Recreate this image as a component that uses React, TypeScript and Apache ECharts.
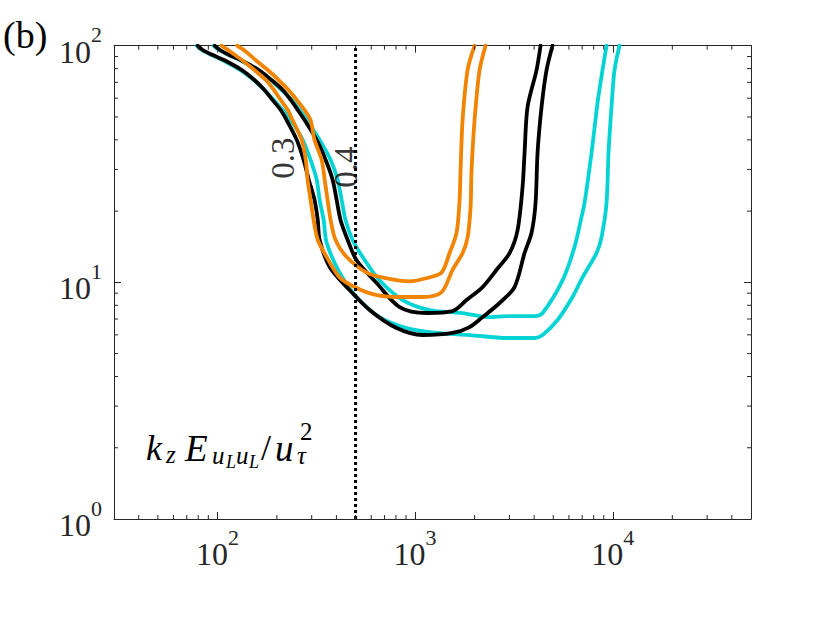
import React, { useEffect, useRef } from 'react';
import * as echarts from 'echarts';

// ---- data (x = wavelength, y = height) ----
const cyan03: [number, number][] = [[78.6,100],[83.3,95.9],[93.6,91.3],[106,87.0],[131,78.9],[153,71.6],[173,65.0],[193,59.0],[214,53.5],[235,48.5],[270,40.0],[296,32.9],[318,27.1],[329,22.3],[345,18.3],[357,14.7],[415,11.0],[506,8.67],[661,7.13],[906,6.41],[1284,6.11],[1886,5.99],[2901,5.82],[3496,5.82],[4019,5.82],[4412,5.99],[5253,6.93],[6254,8.67],[7028,10.5],[8274,13.3],[8767,15.5],[9295,21.6],[9512,35.2],[9849,55.1],[10200,78.9],[10810,100]];
const cyan04: [number, number][] = [[95.8,100],[102,95.9],[114,91.3],[130,87.0],[160,78.9],[186,71.6],[211,65.0],[238,59.0],[261,53.5],[283,48.5],[329,40.0],[374,32.9],[406,27.1],[425,22.3],[445,18.3],[483,15.1],[543,12.8],[661,10.2],[865,8.42],[1184,7.64],[1739,7.42],[2380,7.13],[2901,7.20],[3496,7.20],[4019,7.20],[4412,7.42],[5568,10.2],[6402,14.1],[6946,18.9],[7193,21.6],[7805,35.2],[8369,57.3],[8871,78.9],[9295,100]];
const black03: [number, number][] = [[79.5,100],[84.3,95.9],[94.7,91.3],[108,87.0],[133,78.9],[154,71.6],[173,65.0],[190,59.0],[209,53.5],[224,48.5],[252,40.0],[273,32.9],[290,27.1],[310,22.3],[322,18.3],[329,15.1],[370,11.6],[451,9.55],[589,7.64],[806,6.41],[1091,5.99],[1547,6.11],[1886,6.47],[2195,7.13],[2675,8.18],[3184,9.55],[3578,13.3],[3882,16.2],[4067,21.6],[4162,35.2],[4361,55.1],[4622,78.9],[4956,100]];
const black04: [number, number][] = [[96.9,100],[103,95.9],[115,91.3],[131,87.0],[162,78.9],[188,71.6],[214,65.0],[235,59.0],[255,53.5],[276,48.5],[318,40.0],[353,32.9],[383,27.1],[401,22.3],[420,18.3],[456,15.1],[506,12.4],[639,9.93],[835,7.86],[1143,7.42],[1547,7.56],[1821,8.42],[2195,9.55],[2583,11.3],[3005,13.3],[3297,16.6],[3496,25.3],[3578,35.2],[3705,55.1],[4114,78.9],[4310,100]];
const orange03: [number, number][] = [[105,100],[115,95.0],[133,87.0],[154,78.9],[176,71.6],[193,65.0],[209,59.0],[227,53.5],[240,48.5],[267,40.0],[280,32.9],[286,27.1],[296,22.3],[307,18.3],[322,15.1],[357,12.8],[415,10.5],[506,9.46],[639,8.84],[865,8.67],[1091,8.67],[1362,9.10],[1547,11.3],[1739,13.3],[1843,15.5],[1908,20.8],[1930,29.8],[1999,48.5],[2119,78.9],[2272,100]];
const orange04: [number, number][] = [[126,100],[138,95.0],[156,87.0],[180,78.9],[204,71.6],[229,65.0],[252,59.0],[276,53.5],[296,48.5],[310,40.0],[337,32.9],[349,27.1],[361,22.3],[374,18.3],[396,15.1],[451,12.8],[569,11.0],[718,10.4],[938,10.1],[1184,10.5],[1362,11.0],[1494,13.3],[1621,16.2],[1679,22.3],[1698,29.8],[1739,48.5],[1843,78.9],[1999,100]];

const refLineX = 500;
const xRange = [30, 50000];
const yRange = [1, 100];
const xMinorTicks = [40, 50, 60, 70, 80, 90, 200, 300, 400, 500, 600, 700, 800, 900, 2000, 3000, 4000, 5000, 6000, 7000, 8000, 9000, 20000, 30000, 40000];
const yMinorTicks = [2, 3, 4, 5, 6, 7, 8, 9, 20, 30, 40, 50, 60, 70, 80, 90];
const contourLabels: { text: string; x: number; y: number }[] = [
  { text: '0.3', x: 214, y: 33.5 },
  { text: '0.4', x: 445, y: 30.7 },
];

const COL_CYAN = '#06D4D4';
const COL_BLACK = '#000000';
const COL_ORANGE = '#F18400';
const AX = '#262626';
const SERIF = 'Liberation Serif';

const fmt = (v: number) => {
  const e = Math.round(Math.log10(v));
  if (Math.abs(v - Math.pow(10, e)) > 1e-6 * v) return '';
  return `{b|10}{s|${e}}`;
};
const richLabel = {
  b: { fontSize: 32, fontFamily: SERIF, color: AX, lineHeight: 44, verticalAlign: 'bottom' },
  s: { fontSize: 22, fontFamily: SERIF, color: AX, lineHeight: 22, verticalAlign: 'top' },
};

const lineSeries = (data: [number, number][], color: string) => ({
  type: 'line',
  data,
  symbol: 'none',
  smooth: 0.3,
  lineStyle: { color, width: 3.8, cap: 'round', join: 'round' },
  silent: true,
  z: 3,
});

function mathText(x: number, yc: number, text: string, size: number, italic = true) {
  return {
    type: 'text',
    x,
    y: yc,
    silent: true,
    style: {
      text,
      fontFamily: SERIF,
      fontSize: size,
      fontStyle: italic ? 'italic' : 'normal',
      fill: '#000',
      align: 'left',
      verticalAlign: 'middle',
    },
  };
}

export default function App() {
  const ref = useRef<HTMLDivElement>(null);
  useEffect(() => {
    if (!ref.current) return;
    const chart = echarts.init(ref.current, undefined, { renderer: 'svg' });
    const axisBase = {
      type: 'log',
      logBase: 10,
      axisLine: { show: true, lineStyle: { color: AX, width: 1 } },
      splitLine: { show: false },
      minorTick: { show: false },
    };
    const option: any = {
      animation: false,
      backgroundColor: '#ffffff',
      grid: { left: 114, top: 45.7, right: 79, bottom: 104, containLabel: false, outerBoundsMode: 'none' },
      xAxis: [
        {
          ...axisBase,
          min: xRange[0],
          max: xRange[1],
          position: 'bottom',
          axisTick: { show: true, inside: true, length: 7, lineStyle: { color: AX } },
          axisLabel: { formatter: fmt, rich: richLabel, margin: 7, showMinLabel: false, showMaxLabel: false },
        },
        {
          ...axisBase,
          min: xRange[0],
          max: xRange[1],
          position: 'top',
          axisTick: { show: true, inside: true, length: 7, lineStyle: { color: AX } },
          axisLabel: { show: false },
        },
      ],
      yAxis: [
        {
          ...axisBase,
          min: yRange[0],
          max: yRange[1],
          position: 'left',
          axisTick: { show: true, inside: true, length: 7, lineStyle: { color: AX } },
          axisLabel: { formatter: fmt, rich: richLabel, margin: 12 },
        },
        {
          ...axisBase,
          min: yRange[0],
          max: yRange[1],
          position: 'right',
          axisTick: { show: true, inside: true, length: 7, lineStyle: { color: AX } },
          axisLabel: { show: false },
        },
      ],
      series: [
        lineSeries(cyan03, COL_CYAN),
        lineSeries(cyan04, COL_CYAN),
        lineSeries(black03, COL_BLACK),
        lineSeries(black04, COL_BLACK),
        lineSeries(orange03, COL_ORANGE),
        lineSeries(orange04, COL_ORANGE),
        {
          type: 'line',
          data: [[refLineX, yRange[0]], [refLineX, yRange[1]]],
          symbol: 'none',
          lineStyle: { color: '#000', width: 3, type: [3, 3], cap: 'butt' },
          silent: true,
          z: 4,
        },
        {
          type: 'scatter',
          data: contourLabels.map((l) => [l.x, l.y, l.text]),
          symbolSize: 0,
          silent: true,
          z: 6,
          label: {
            show: true,
            position: 'inside',
            rotate: 90,
            formatter: (p: any) => p.data[2],
            fontFamily: SERIF,
            fontSize: 33,
            color: '#000',
          },
        },
        {
          type: 'custom',
          data: xMinorTicks.map((v) => [v, 10]),
          silent: true,
          z: 5,
          clip: false,
          renderItem: (params: any, api: any) => {
            const cs = params.coordSys;
            const px = api.coord([api.value(0), 10])[0];
            const bottom = cs.y + cs.height;
            const top = cs.y;
            return {
              type: 'group',
              children: [
                { type: 'line', shape: { x1: px, y1: bottom, x2: px, y2: bottom - 4 }, style: { stroke: AX, lineWidth: 1 } },
                { type: 'line', shape: { x1: px, y1: top, x2: px, y2: top + 4 }, style: { stroke: AX, lineWidth: 1 } },
              ],
            };
          },
        },
        {
          type: 'custom',
          data: yMinorTicks.map((v) => [100, v]),
          silent: true,
          z: 5,
          clip: false,
          renderItem: (params: any, api: any) => {
            const cs = params.coordSys;
            const py = api.coord([100, api.value(1)])[1];
            const left = cs.x;
            const right = cs.x + cs.width;
            return {
              type: 'group',
              children: [
                { type: 'line', shape: { x1: left, y1: py, x2: left + 4, y2: py }, style: { stroke: AX, lineWidth: 1 } },
                { type: 'line', shape: { x1: right, y1: py, x2: right - 4, y2: py }, style: { stroke: AX, lineWidth: 1 } },
              ],
            };
          },
        },
      ],
      graphic: [
        mathText(3, 35, '(b)', 38, false),
        {
          type: 'group',
          silent: true,
          children: [
            mathText(146, 448, 'k', 36),
            mathText(166, 454, 'z', 25),
            mathText(185, 448, 'E', 37),
            mathText(212, 455, 'u', 25),
            mathText(226, 462, 'L', 18),
            mathText(236, 455, 'u', 25),
            mathText(249, 462, 'L', 18),
            mathText(261, 448, '/', 36, false),
            mathText(275, 448, 'u', 37),
            mathText(297, 455, 'τ', 25),
            mathText(300, 431, '2', 25, false),
          ],
        },
      ],
    };
    chart.setOption(option);
    return () => chart.dispose();
  }, []);
  return <div ref={ref} style={{ position: 'fixed', left: 0, top: 0, width: 830, height: 623, background: '#fff' }} />;
}
